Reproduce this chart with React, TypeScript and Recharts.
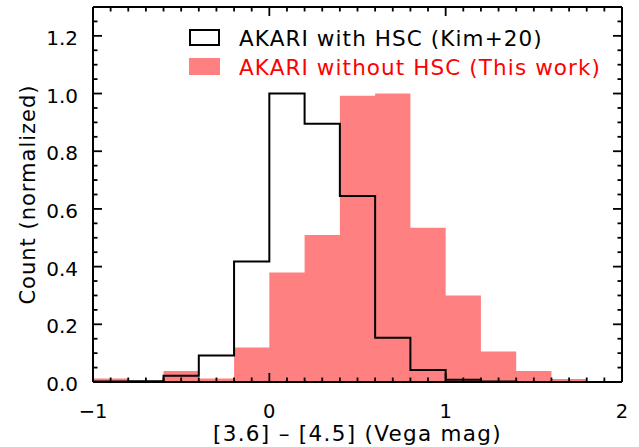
import React from 'react';
import { ComposedChart, Area, Line, XAxis, YAxis, Legend } from 'recharts';

// bin starts (width 0.2), last edge closes the histogram
const binStarts = [-1, -0.8, -0.6, -0.4, -0.2, 0, 0.2, 0.4, 0.6, 0.8, 1.0, 1.2, 1.4, 1.6, 1.8];
const binEnd = 2;
const withHsc = [0.002, 0.003, 0.022, 0.092, 0.418, 1.0, 0.895, 0.645, 0.153, 0.042, 0.008, 0.002, 0, 0, 0];
const withoutHsc = [0.012, 0.004, 0.038, 0.012, 0.12, 0.38, 0.51, 0.992, 1.0, 0.535, 0.3, 0.106, 0.038, 0.01, 0];

const xMajor = [-1, 0, 1, 2];
const yMajor = [0, 0.2, 0.4, 0.6, 0.8, 1.0, 1.2];
const legendItems = [
  { name: 'AKARI with HSC (Kim+20)', color: '#000000', filled: false },
  { name: 'AKARI without HSC (This work)', color: '#ff0000', filled: true },
];
const xTitle = '[3.6] – [4.5] (Vega mag)';
const yTitle = 'Count (normalized)';

const FONT = 'DejaVu Sans';
const RED_FILL = '#ff8080';
const W = 639;
const H = 447;
const MARGIN = { top: 6, right: 16, bottom: 0, left: 33 };

const edges = [...binStarts, binEnd];
const data = edges.map((x, i) => {
  const k = Math.min(i, binStarts.length - 1);
  return { x, red: withoutHsc[k], black: withHsc[k] };
});

// minor ticks every 0.1 in x, 0.05 in y
const xTicks: number[] = [];
for (let i = 0; i <= 30; i++) xTicks.push(Math.round((-1 + i * 0.1) * 10) / 10);
const yTicks: number[] = [];
for (let i = 0; i <= 26; i++) yTicks.push(Math.round(i * 5) / 100);

const isMajor = (v: number, majors: number[]) => majors.some((m) => Math.abs(m - v) < 1e-6);
const MAJ = 9;
const MIN = 4.5;
const TW = 1.8;

const fmtX = (v: number) => (v < 0 ? '\u2212' + Math.abs(v) : String(v));

function BottomTick(props: any) {
  const { x, y, payload } = props;
  const major = isMajor(payload.value, xMajor);
  return (
    <g>
      <line x1={x} x2={x} y1={y} y2={y - (major ? MAJ : MIN)} stroke="#000" strokeWidth={TW} />
      {major && (
        <text x={x} y={y + 36} textAnchor="middle" fontFamily={FONT} fontSize={19.5} fill="#000">
          {fmtX(payload.value)}
        </text>
      )}
    </g>
  );
}

function TopTick(props: any) {
  const { x, y, payload } = props;
  const major = isMajor(payload.value, xMajor);
  return <line x1={x} x2={x} y1={y} y2={y + (major ? MAJ : MIN)} stroke="#000" strokeWidth={TW} />;
}

function LeftTick(props: any) {
  const { x, y, payload } = props;
  const major = isMajor(payload.value, yMajor);
  return (
    <g>
      <line x1={x} x2={x + (major ? MAJ : MIN)} y1={y} y2={y} stroke="#000" strokeWidth={TW} />
      {major && (
        <text x={x - 15} y={y + 9} textAnchor="end" fontFamily={FONT} fontSize={20} fill="#000">
          {payload.value.toFixed(1)}
        </text>
      )}
    </g>
  );
}

function RightTick(props: any) {
  const { x, y, payload } = props;
  const major = isMajor(payload.value, yMajor);
  return <line x1={x} x2={x - (major ? MAJ : MIN)} y1={y} y2={y} stroke="#000" strokeWidth={TW} />;
}

function LegendBox() {
  return (
    <svg width={W} height={90}>
      {legendItems.map((it, i) => {
        const top = 30 + i * 29;
        return (
          <g key={it.name}>
            {it.filled ? (
              <rect x={189} y={top - 1} width={31} height={17} fill={RED_FILL} />
            ) : (
              <rect x={190} y={top} width={29} height={15} fill="none" stroke="#000" strokeWidth={2} />
            )}
            <text x={239} y={top + 15.5} fontFamily={FONT} fontSize={21.5} letterSpacing={1.1} fill={it.color}>
              {it.name}
            </text>
          </g>
        );
      })}
    </svg>
  );
}

const axisLine = { stroke: '#000', strokeWidth: 2 };

// draw=false: axes only give scales (series layer); draw=true: frame, ticks, labels (top layer)
function axes(draw: boolean) {
  const common = {
    type: 'number' as const,
    allowDataOverflow: true,
    interval: 0 as const,
    tickLine: false,
    tickSize: 0,
    tickMargin: 0,
    axisLine: draw ? axisLine : false,
  };
  return [
    <XAxis
      key="b"
      xAxisId="b"
      dataKey="x"
      domain={[-1, 2]}
      ticks={xTicks}
      height={65}
      {...common}
      tick={draw ? <BottomTick /> : false}
      label={
        draw
          ? {
              content: (p: any) => {
                const vb = p.viewBox || { x: 93, y: 382, width: 529, height: 65 };
                return (
                  <text
                    x={vb.x + vb.width / 2}
                    y={vb.y + 59}
                    textAnchor="middle"
                    fontFamily={FONT}
                    fontSize={21.5}
                    letterSpacing={1.3}
                    fill="#000"
                  >
                    {xTitle}
                  </text>
                );
              },
            }
          : undefined
      }
    />,
    <XAxis
      key="t"
      xAxisId="t"
      orientation="top"
      dataKey="x"
      domain={[-1, 2]}
      ticks={xTicks}
      height={1}
      {...common}
      tick={draw ? <TopTick /> : false}
    />,
    <YAxis
      key="l"
      yAxisId="l"
      domain={[0, 1.3]}
      ticks={yTicks}
      width={60}
      {...common}
      tick={draw ? <LeftTick /> : false}
      label={
        draw
          ? {
              content: (p: any) => {
                const vb = p.viewBox || { x: 33, y: 7, width: 60, height: 375 };
                const cy = vb.y + vb.height / 2;
                return (
                  <text
                    x={35}
                    y={cy}
                    transform={`rotate(-90 35 ${cy})`}
                    textAnchor="middle"
                    fontFamily={FONT}
                    fontSize={21}
                    letterSpacing={1}
                    fill="#000"
                  >
                    {yTitle}
                  </text>
                );
              },
            }
          : undefined
      }
    />,
    <YAxis
      key="r"
      yAxisId="r"
      orientation="right"
      domain={[0, 1.3]}
      ticks={yTicks}
      width={1}
      {...common}
      tick={draw ? <RightTick /> : false}
    />,
  ];
}

const layer: React.CSSProperties = { position: 'absolute', left: 0, top: 0 };

export default function App() {
  return (
    <div style={{ position: 'absolute', left: 0, top: 0, width: W, height: H, background: '#fff' }}>
      <div style={layer}>
        <ComposedChart width={W} height={H} data={data} margin={MARGIN}>
          {axes(false)}
          <Area
            xAxisId="b"
            yAxisId="l"
            type="stepAfter"
            dataKey="red"
            name={legendItems[1].name}
            fill={RED_FILL}
            fillOpacity={1}
            stroke="none"
            baseValue={0}
            isAnimationActive={false}
          />
          <Line
            xAxisId="t"
            yAxisId="r"
            type="stepAfter"
            dataKey="black"
            name={legendItems[0].name}
            stroke="#000"
            strokeWidth={2}
            dot={false}
            isAnimationActive={false}
          />
        </ComposedChart>
      </div>
      <div style={layer}>
        <ComposedChart width={W} height={H} data={data} margin={MARGIN}>
          {axes(true)}
          <Line xAxisId="b" yAxisId="l" dataKey="red" stroke="none" dot={false} legendType="none" isAnimationActive={false} />
          <Line xAxisId="t" yAxisId="r" dataKey="black" stroke="none" dot={false} legendType="none" isAnimationActive={false} />
          <Legend
            layout="vertical"
            align="center"
            verticalAlign="middle"
            wrapperStyle={{ position: 'absolute', left: 0, top: 0, width: W }}
            content={() => <LegendBox />}
          />
        </ComposedChart>
      </div>
    </div>
  );
}
